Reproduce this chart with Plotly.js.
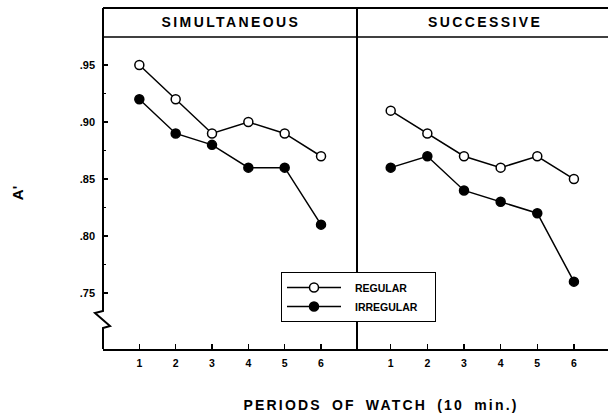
<!DOCTYPE html>
<html>
<head>
<meta charset="utf-8">
<script src="https://cdn.plot.ly/plotly-3.0.1.min.js"></script>
<style>
  html, body { margin: 0; padding: 0; background: #fff; }
  #chart { width: 608px; height: 415px; }
</style>
</head>
<body>
<div id="chart"></div>
<script>
// ---- data ----
const periods = [1, 2, 3, 4, 5, 6];
const simRegular   = [0.95, 0.92, 0.89, 0.90, 0.89, 0.87];
const simIrregular = [0.92, 0.89, 0.88, 0.86, 0.86, 0.81];
const sucRegular   = [0.91, 0.89, 0.87, 0.86, 0.87, 0.85];
const sucIrregular = [0.86, 0.87, 0.84, 0.83, 0.82, 0.76];
const panelTitles = ['SIMULTANEOUS', 'SUCCESSIVE'];
const seriesNames = ['REGULAR', 'IRREGULAR'];
const yTickVals = [0.75, 0.80, 0.85, 0.90, 0.95];
const yTickText = ['.75', '.80', '.85', '.90', '.95'];
const yMinorVals = [0.775, 0.825, 0.875, 0.925];
const xTitle = 'PERIODS OF WATCH (10 min.)';
const yTitle = "A'";

// ---- layout helpers (pixel -> paper) ----
const W = 608, H = 415;
const px = x => x / W;
const py = y => 1 - y / H;
const FONT = 'Liberation Sans, Arial, Helvetica, sans-serif';

const lineStyle = { color: 'black', width: 1.5 };
const openMarker = { symbol: 'circle', size: 9, color: 'white', line: { color: 'black', width: 1.5 } };
const fillMarker = { symbol: 'circle', size: 9, color: 'black', line: { color: 'black', width: 1.5 } };

const traces = [
  { x: periods, y: simRegular, name: seriesNames[0], xaxis: 'x', yaxis: 'y', mode: 'lines+markers', line: lineStyle, marker: openMarker, cliponaxis: false },
  { x: periods, y: simIrregular, name: seriesNames[1], xaxis: 'x', yaxis: 'y', mode: 'lines+markers', line: lineStyle, marker: fillMarker, cliponaxis: false },
  { x: periods, y: sucRegular, name: seriesNames[0], xaxis: 'x2', yaxis: 'y2', mode: 'lines+markers', line: lineStyle, marker: openMarker, showlegend: false, cliponaxis: false },
  { x: periods, y: sucIrregular, name: seriesNames[1], xaxis: 'x2', yaxis: 'y2', mode: 'lines+markers', line: lineStyle, marker: fillMarker, showlegend: false, cliponaxis: false }
];

const xTickFont = { family: FONT, size: 10.5, color: 'black', weight: 'bold' };
const yTickFont = { family: FONT, size: 11, color: 'black', weight: 'bold' };
const xCommon = {
  tickvals: periods, ticktext: periods.map(String),
  ticks: 'inside', ticklen: 5, tickwidth: 1.5, tickcolor: 'black',
  showline: true, linecolor: 'black', linewidth: 2,
  showgrid: false, zeroline: false, tickfont: xTickFont,
  ticklabelstandoff: 3, fixedrange: true
};
const yRange = [0.7009, 0.9746];

const layout = {
  width: W, height: H,
  margin: { l: 0, r: 0, t: 0, b: 0, pad: 0 },
  paper_bgcolor: 'white', plot_bgcolor: 'rgba(0,0,0,0)',
  showlegend: true,
  xaxis: Object.assign({}, xCommon, { domain: [px(103), px(357)], range: [0, 6.99], anchor: 'y' }),
  xaxis2: Object.assign({}, xCommon, { domain: [px(357), 1], range: [0.08, 6.93], anchor: 'y2' }),
  yaxis: {
    domain: [py(349), py(37)], range: yRange, anchor: 'x',
    tickvals: yTickVals, ticktext: yTickText,
    ticks: 'inside', ticklen: 5, tickwidth: 1.5, tickcolor: 'black',
    minor: { tickvals: yMinorVals, ticks: 'inside', ticklen: 3, tickwidth: 1.5, tickcolor: 'black', showgrid: false },
    showline: false, showgrid: false, zeroline: false,
    tickfont: yTickFont, ticklabelstandoff: 7, fixedrange: true,
    title: { text: yTitle, font: { family: FONT, size: 15, color: 'black', weight: 'bold' }, standoff: 52 },
    automargin: false
  },
  yaxis2: {
    domain: [py(349), py(37)], range: yRange, anchor: 'x2', matches: 'y',
    showticklabels: false, ticks: '', showline: false, showgrid: false, zeroline: false, fixedrange: true
  },
  legend: {
    x: px(281), y: py(272), xanchor: 'left', yanchor: 'top',
    bgcolor: 'white', bordercolor: 'black', borderwidth: 1,
    font: { family: FONT, size: 10.5, color: 'black', weight: 'bold' },
    itemwidth: 63, traceorder: 'normal'
  },
  annotations: [
    { text: panelTitles[0], xref: 'paper', yref: 'paper', x: px(231), y: py(22), xanchor: 'center', yanchor: 'middle', showarrow: false, font: { family: FONT, size: 14, color: 'black', weight: 'bold' } },
    { text: panelTitles[1], xref: 'paper', yref: 'paper', x: px(485), y: py(22), xanchor: 'center', yanchor: 'middle', showarrow: false, font: { family: FONT, size: 14, color: 'black', weight: 'bold' } },
    { text: xTitle, xref: 'paper', yref: 'paper', x: px(381), y: py(405), xanchor: 'center', yanchor: 'middle', showarrow: false, font: { family: FONT, size: 14, color: 'black', weight: 'bold' } }
  ],
  shapes: [
    { type: 'line', xref: 'paper', yref: 'paper', x0: px(103), x1: 1, y0: py(8), y1: py(8), line: { color: 'black', width: 2 } },
    { type: 'line', xref: 'paper', yref: 'paper', x0: px(103), x1: 1, y0: py(37), y1: py(37), line: { color: 'black', width: 1.5 } },
    { type: 'line', xref: 'paper', yref: 'paper', x0: px(357), x1: px(357), y0: py(8), y1: py(349), line: { color: 'black', width: 2 } },
    { type: 'path', xref: 'paper', yref: 'paper',
      path: 'M ' + px(103) + ' ' + py(8) + ' L ' + px(103) + ' ' + py(311) +
            ' L ' + px(95) + ' ' + py(313) + ' L ' + px(110) + ' ' + py(326) +
            ' L ' + px(103) + ' ' + py(328) + ' L ' + px(103) + ' ' + py(349),
      line: { color: 'black', width: 2 } }
  ]
};

Plotly.newPlot('chart', traces, layout, { displayModeBar: false, staticPlot: true }).then(() => {
  const spacing = { 'SIMULTANEOUS': '2.4px', 'SUCCESSIVE': '2.4px' };
  document.querySelectorAll('.annotation-text').forEach(t => {
    const s = spacing[t.textContent];
    if (s) t.style.letterSpacing = s;
    if (t.textContent === xTitle) { t.style.letterSpacing = '2.2px'; t.style.wordSpacing = '4px'; }
  });
  // y title: make sure it reads bottom-to-top like the original
  document.querySelectorAll('.ytitle').forEach(t => {
    const x = parseFloat(t.getAttribute('x')), y = parseFloat(t.getAttribute('y'));
    t.setAttribute('transform', 'rotate(-90,' + x + ',' + y + ')');
  });
  // longer legend sample line with centred marker, as in the original key
  document.querySelectorAll('.legend .legendlines path').forEach(p => p.setAttribute('d', 'M5,0h54'));
  document.querySelectorAll('.legend .legendpoints path').forEach(p => p.setAttribute('transform', 'translate(32,0)'));
  const bg = document.querySelector('.legend .bg');
  if (bg) bg.setAttribute('width', '154');
});
</script>
</body>
</html>
